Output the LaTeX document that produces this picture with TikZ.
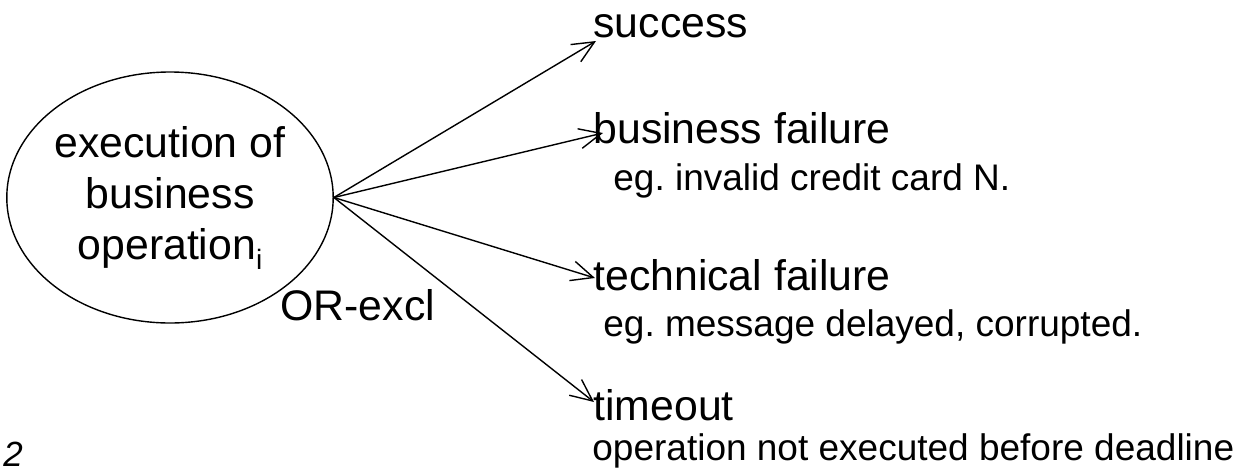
\documentclass[tikz,border=0pt]{standalone}
\usepackage{fontspec}
\setmainfont{Liberation Sans}
\usetikzlibrary{shapes.geometric,arrows.meta}
\newcommand\bigtxt{\fontsize{21.4}{25.5}\selectfont}
\newcommand\smalltxt{\fontsize{18.5}{22}\selectfont}
\newcommand\opsub[1]{\raisebox{-5pt}{\fontsize{14}{14}\selectfont #1}}
\frenchspacing

\begin{document}
\begin{tikzpicture}[x=0.5pt,y=-0.5pt,
    lbl/.style={anchor=base west,inner sep=0pt,font=\bigtxt},
    note/.style={anchor=base west,inner sep=0pt,font=\smalltxt},
    outcome/.style={line width=0.7pt,-{Straight Barb[length=11pt,width=10pt]}}]
    \useasboundingbox (0,0) rectangle (1242,472); % fixes the page size
    
    \node[ellipse,draw,line width=0.7pt,minimum width=158pt,minimum height=125.5pt,
          inner sep=0pt,align=center,font=\bigtxt] (op) at (170,197.5)
          {execution of\\business\\operation\opsub{i}};
    \node[lbl] (orx) at (280,320) {OR-excl};
    
    \coordinate (tsucc) at (596,41);
    \coordinate (tbus) at (603,133);
    \coordinate (ttech) at (595,278);
    \coordinate (ttime) at (594,402);
    
   	\foreach \t in {tsucc,tbus,ttech,ttime}{
   		\draw[outcome] (op.east) -- (\t);
   	}
   
	\node[lbl] (succ) at (593,37) {success};
	\node[lbl] (bus) at (593,143) {business failure};
	\node[note] (busnote) at (613,190) {eg. invalid credit card N.};
	\node[lbl] (tech) at (593,290) {technical failure};
	\node[note] (technote) at (603,336) {eg. message delayed, corrupted.};
	\node[lbl] (time) at (593,420) {timeout};
	\node[note] (timenote) at (592,460) {operation not executed before deadline};
	\node[anchor=base west,inner sep=0pt,font=\fontsize{17.5}{20}\selectfont\itshape] (pg) at (3,466) {2};
  \end{tikzpicture}
\end{document}
